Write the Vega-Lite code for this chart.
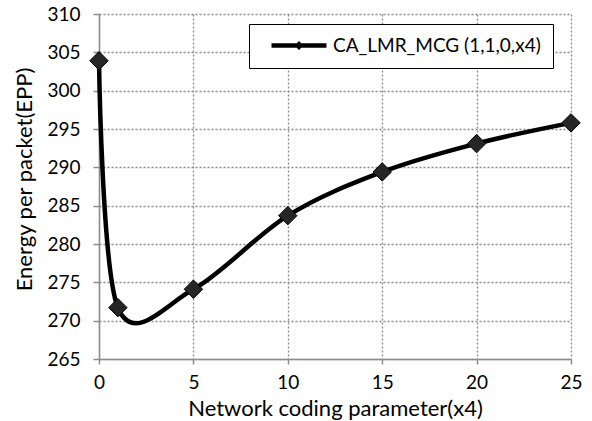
{
  "$schema": "https://vega.github.io/schema/vega-lite/v6.json",
  "width": 472,
  "height": 345,
  "autosize": {"type": "none"},
  "padding": {"left": 99, "top": 14, "right": 21, "bottom": 62},
  "background": "white",
  "config": {
    "view": {"stroke": null},
    "font": "Lato",
    "axis": {
      "labelFont": "Lato",
      "titleFont": "Lato",
      "labelFontSize": 19,
      "titleFontSize": 22,
      "labelColor": "black",
      "titleColor": "black",
      "titleFontWeight": "normal",
      "domainColor": "#8c8c8c",
      "domainWidth": 1.5,
      "tickColor": "#8c8c8c",
      "tickWidth": 1.5,
      "gridColor": "#8a8a8a",
      "gridDash": [2, 2],
      "gridWidth": 1.3
    }
  },
  "data": {
    "values": [
      {"x": 0, "y": 303.9, "series": "CA_LMR_MCG (1,1,0,x4)"},
      {"x": 1, "y": 271.7, "series": "CA_LMR_MCG (1,1,0,x4)"},
      {"x": 5, "y": 274.1, "series": "CA_LMR_MCG (1,1,0,x4)"},
      {"x": 10, "y": 283.7, "series": "CA_LMR_MCG (1,1,0,x4)"},
      {"x": 15, "y": 289.4, "series": "CA_LMR_MCG (1,1,0,x4)"},
      {"x": 20, "y": 293.1, "series": "CA_LMR_MCG (1,1,0,x4)"},
      {"x": 25, "y": 295.8, "series": "CA_LMR_MCG (1,1,0,x4)"}
    ]
  },
  "encoding": {
    "x": {
      "field": "x",
      "type": "quantitative",
      "scale": {"domain": [0, 25], "nice": false, "zero": false},
      "axis": {
        "values": [0, 5, 10, 15, 20, 25],
        "title": "Network coding parameter(x4)",
        "tickSize": 5,
        "labelPadding": 9,
        "labelFlush": false,
        "titleBaseline": "alphabetic",
        "titleY": 56,
        "titleAnchor": "middle"
      }
    },
    "y": {
      "field": "y",
      "type": "quantitative",
      "scale": {"domain": [265, 310], "nice": false, "zero": false},
      "axis": {
        "values": [265, 270, 275, 280, 285, 290, 295, 300, 305, 310],
        "title": "Energy per packet(EPP)",
        "tickSize": 6,
        "labelPadding": 13,
        "labelFlush": false,
        "labelBaseline": "middle",
        "titleBaseline": "alphabetic",
        "titleAngle": -90,
        "titleX": -68,
        "titleY": 165,
        "titleAnchor": "middle"
      }
    }
  },
  "layer": [
    {
      "mark": {"type": "line", "interpolate": "cardinal", "color": "black", "strokeWidth": 4.5},
      "encoding": {
        "detail": {"field": "series", "type": "nominal"}
      }
    },
    {
      "mark": {"type": "point", "shape": "diamond", "filled": true, "size": 340, "fill": "#262626", "stroke": "black", "strokeWidth": 1, "opacity": 1},
      "encoding": {
        "color": {
          "field": "series",
          "type": "nominal",
          "scale": {"range": ["black"]},
          "legend": {
            "title": null,
            "orient": "none",
            "legendX": 150,
            "legendY": 10,
            "padding": 12,
            "strokeColor": "black",
            "fillColor": "white",
            "symbolType": "M0.2,-0.45L11.2,-0.45L11.2,0.45L0.2,0.45ZM4.8,0L5.7,-0.9L6.6,0L5.7,0.9Z",
            "symbolSize": 100,
            "symbolFillColor": "black",
            "symbolStrokeWidth": 0,
            "symbolOpacity": 1,
            "labelFont": "Lato",
            "labelFontSize": 19,
            "labelColor": "black",
            "labelOffset": 53,
            "labelLimit": 400
          }
        }
      }
    }
  ]
}
